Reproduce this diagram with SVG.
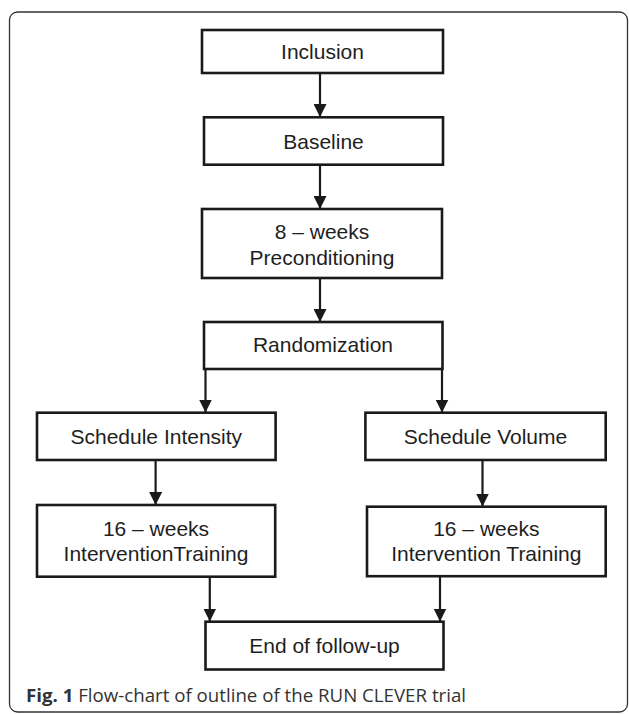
<svg xmlns="http://www.w3.org/2000/svg" width="629" height="714" viewBox="0 0 629 714">
<style>
.box{fill:#fff;stroke:#1a1a1a;stroke-width:2.6}
.lbl{font-family:"Liberation Sans",Arial,sans-serif;font-size:21px;fill:#1e1e1e;text-anchor:middle}
.con{stroke:#1a1a1a;stroke-width:2.2;fill:none}
.cap{font-family:"Open Sans","Noto Sans",sans-serif;font-size:18px;fill:#333}
</style>
<defs>
<marker id="ah" markerUnits="userSpaceOnUse" markerWidth="14" markerHeight="13" refX="13" refY="6.5" orient="auto">
<path d="M0,0 L13,6.5 L0,13 z" fill="#1a1a1a"/>
</marker>
</defs>
<rect x="9.5" y="12" width="618" height="700" rx="8" fill="#fff" stroke="#333" stroke-width="1.3"/>
<g id="connectors">
<line class="con" x1="320" y1="73" x2="320" y2="117" marker-end="url(#ah)"/>
<line class="con" x1="320" y1="165" x2="320" y2="209" marker-end="url(#ah)"/>
<line class="con" x1="320" y1="278" x2="320" y2="322" marker-end="url(#ah)"/>
<line class="con" x1="205.5" y1="369" x2="205.5" y2="412.5" marker-end="url(#ah)"/>
<line class="con" x1="442" y1="369" x2="442" y2="412.5" marker-end="url(#ah)"/>
<line class="con" x1="155.6" y1="460" x2="155.6" y2="505" marker-end="url(#ah)"/>
<line class="con" x1="482.5" y1="460" x2="482.5" y2="506.5" marker-end="url(#ah)"/>
<line class="con" x1="209.8" y1="577" x2="209.8" y2="621.5" marker-end="url(#ah)"/>
<line class="con" x1="440" y1="577" x2="440" y2="621.5" marker-end="url(#ah)"/>
</g>
<g id="inclusion"><rect class="box" x="202" y="30" width="241" height="43"/><text class="lbl" x="322.5" y="59">Inclusion</text></g>
<g id="baseline"><rect class="box" x="204" y="117.3" width="239" height="47.4"/><text class="lbl" x="323.5" y="149">Baseline</text></g>
<g id="preconditioning"><rect class="box" x="202" y="209" width="240" height="69"/><text class="lbl" x="322" y="239">8 – weeks</text><text class="lbl" x="322" y="264.5">Preconditioning</text></g>
<g id="randomization"><rect class="box" x="204" y="322" width="238.5" height="47"/><text class="lbl" x="323" y="351.5">Randomization</text></g>
<g id="schedule-intensity"><rect class="box" x="37" y="412.7" width="238.6" height="47.3"/><text class="lbl" x="156.3" y="444">Schedule Intensity</text></g>
<g id="schedule-volume"><rect class="box" x="365.4" y="412.7" width="240.3" height="47.3"/><text class="lbl" x="485.5" y="444">Schedule Volume</text></g>
<g id="training-intensity"><rect class="box" x="37" y="505" width="238.2" height="71.7"/><text class="lbl" x="156" y="536">16 – weeks</text><text class="lbl" x="156" y="561">InterventionTraining</text></g>
<g id="training-volume"><rect class="box" x="367" y="506.7" width="238.7" height="69.5"/><text class="lbl" x="486.3" y="536">16 – weeks</text><text class="lbl" x="486.3" y="561">Intervention Training</text></g>
<g id="end"><rect class="box" x="205.5" y="621.7" width="238" height="47.8"/><text class="lbl" x="324.5" y="653">End of follow-up</text></g>
<text class="cap" x="26" y="702" textLength="440" lengthAdjust="spacingAndGlyphs"><tspan font-weight="bold">Fig. 1</tspan> Flow-chart of outline of the RUN CLEVER trial</text>
</svg>
